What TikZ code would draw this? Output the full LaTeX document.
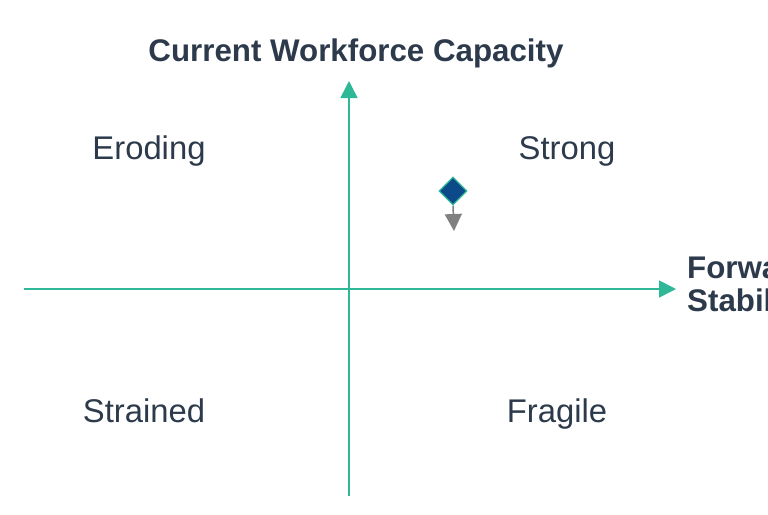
\documentclass[tikz,border=0pt]{standalone}
\usepackage{fontspec}
\setmainfont{Liberation Sans}
\usetikzlibrary{arrows.meta,shapes.geometric}
\definecolor{axiscol}{HTML}{2EB897}
\definecolor{txtcol}{HTML}{2C3A4B}
\definecolor{dmdfill}{HTML}{0D4A8A}
\definecolor{greyarr}{HTML}{808080}
\tikzset{
  axis/.style={draw=axiscol, line width=1.6pt},
  quad/.style={text=txtcol, font=\fontsize{32.8}{34}\selectfont, inner sep=0pt, anchor=base},
  title/.style={text=txtcol, font=\bfseries\fontsize{31.3}{32}\selectfont, inner sep=0pt},
}
\begin{document}
\begin{tikzpicture}[x=1pt,y=-1pt]
\useasboundingbox (0,0) rectangle (768,514);
\begin{scope}
\clip (0,0) rectangle (768,514);
\coordinate (xl) at (24,289);
\coordinate (xr) at (676,289);
\coordinate (yb) at (349,496);
\coordinate (yt) at (349,81);
\draw[axis, -{Triangle[length=17pt,width=17pt]}] (xl) -- (xr);
\draw[axis, -{Triangle[length=17pt,width=17pt]}] (yb) -- (yt);
\node[title] (ttl) at (356,53) {Current Workforce Capacity};
\node[title, anchor=north west, align=left, font=\bfseries\fontsize{31.3}{33}\selectfont] (xlab) at (687,256) {Forward\\Stability};
\node[quad] (er) at (149,159) {Eroding};
\node[quad] (st) at (567,159) {Strong};
\node[quad] (sn) at (144,422) {Strained};
\node[quad] (fr) at (557,422) {Fragile};
\node[diamond, draw=axiscol, fill=dmdfill, line width=1.2pt, minimum width=28pt, minimum height=28pt, inner sep=0pt] (dm) at (453,191) {};
\coordinate (tip) at (454,231);
\draw[greyarr, line width=1.5pt, -{Triangle[length=17pt,width=17pt]}] (dm.south) -- (tip);
\end{scope}
\end{tikzpicture}
\end{document}
